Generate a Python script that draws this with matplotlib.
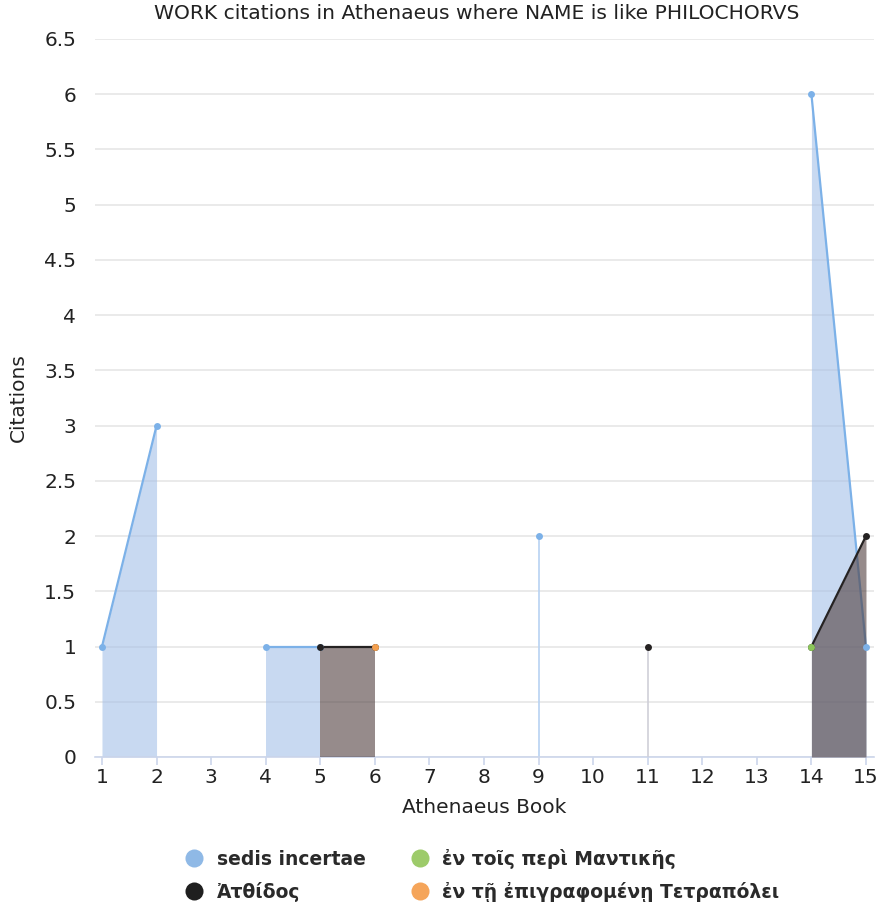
import matplotlib
matplotlib.use("Agg")
import matplotlib.pyplot as plt
from matplotlib.lines import Line2D

# citations per Athenaeus book (None = no citation)
books = list(range(1, 16))
sedis_incertae = [1, 3, None, 1, 1, None, None, None, 2, None, None, None, None, 6, 1]
atthidos = [None, None, None, None, 1, 1, None, None, None, None, 1, None, None, 1, 2]
mantikes = [None] * 13 + [1, None]
tetrapolei = [None] * 5 + [1] + [None] * 9

series_names = ["sedis incertae", "Ἀτθίδος", "ἐν τοῖς περὶ Μαντικῆς",
                "ἐν τῇ ἐπιγραφομένῃ Τετραπόλει"]
series_data = [sedis_incertae, atthidos, mantikes, tetrapolei]
line_colors = ["#7cb1e8", "#252222", "#8cc65a", "#f4a04f"]
fill_colors = ["#a4c0e8", "#503e3e", "#8cc65a", "#f4a04f"]
legend_colors = ["#8fb9e6", "#1f1f1f", "#9dcb6a", "#f5a55a"]
vline_colors = ["#b8d2f2", "#cfcfd8", None, None]


def segments(xs, ys):
    seg = []
    for x, y in zip(xs, ys):
        if y is None:
            if seg:
                yield seg
            seg = []
        else:
            seg.append((x, y))
    if seg:
        yield seg


fig = plt.figure(figsize=(8.85, 9.06), dpi=100)
ax = fig.add_axes([95 / 885, 1 - 757 / 906, (874 - 95) / 885, (757 - 39) / 906])

for i, ys in enumerate(series_data):
    for seg in segments(books, ys):
        sx = [p[0] for p in seg]
        sy = [p[1] for p in seg]
        if len(seg) > 1:
            ax.fill_between(sx, 0, sy, color=fill_colors[i], alpha=0.6,
                            linewidth=0, zorder=2 + i)
            ax.plot(sx, sy, color=line_colors[i], lw=1.6, zorder=2 + i)
        elif vline_colors[i]:
            ax.vlines(sx, 0, sy, color=vline_colors[i], lw=1.2, zorder=2 + i)
        ax.plot(sx, sy, 'o', color=line_colors[i], ms=5, mew=0, zorder=10 + i)

ax.set_xlim(0.872, 15.147)
ax.set_ylim(0, 6.5)
ax.set_xticks(books)
ax.set_yticks([i * 0.5 for i in range(14)])
ax.set_yticklabels(["0"] + ["%g" % (i * 0.5) for i in range(1, 14)])

for s in ["top", "right", "left"]:
    ax.spines[s].set_visible(False)
ax.spines["bottom"].set_color("#ccd6eb")
ax.spines["bottom"].set_linewidth(1.2)
ax.grid(axis="y", color="#e6e6e6", lw=1.2, zorder=0)
ax.set_axisbelow(True)
ax.tick_params(axis="x", length=6, color="#ccd6eb", width=1.2, labelsize=14.5,
               labelcolor="#222222", pad=2)
ax.tick_params(axis="y", length=0, labelsize=14.5, labelcolor="#222222", pad=13.5)

ax.set_xlabel("Athenaeus Book", fontsize=14.5, color="#222222", labelpad=8)
ax.set_ylabel("Citations", fontsize=14.5, color="#222222", labelpad=12)
fig.text(0.539, 0.985, "WORK citations in Athenaeus where NAME is like PHILOCHORVS",
         ha="center", va="center", fontsize=14.6, color="#222222")

handles = [Line2D([], [], ls="none", marker="o", ms=13, mew=0, color=c)
           for c in legend_colors]
fig.legend(handles, series_names, ncol=2, loc="upper left",
           bbox_to_anchor=(168 / 885, 1 - 832 / 906), frameon=False,
           prop={"size": 13.5, "weight": "bold"}, labelcolor="#2a2a2a",
           handlelength=1.0, handletextpad=0.7, columnspacing=2.4,
           labelspacing=0.7)

fig.savefig("out.png", dpi=100)
